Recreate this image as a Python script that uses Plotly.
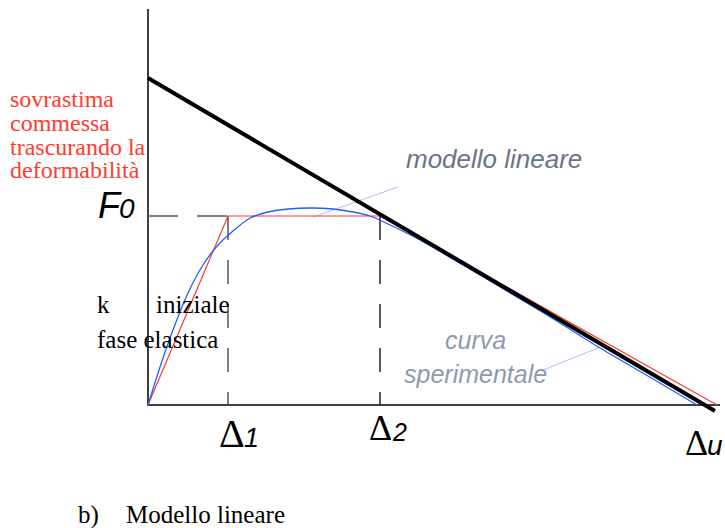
import plotly.graph_objects as go

# ---- data (diagram units: displacement, force) ----
F0 = 189
D1 = 80
D2 = 232
Du = 569
linear_model_x = [0, 567]
linear_model_y = [327, -6]
bilinear_x = [0, D1, D2, Du]
bilinear_y = [0, F0, F0, 0]
exp_x = [0, 12, 25, 40, 55, 70, 85, 102, 120, 140, 163, 185, 205, 222, 240, 272, 332, 399, 452, 500, 549]
exp_y = [0, 38, 75, 112, 140, 160, 174, 187, 193, 196, 197, 196, 193, 189, 181, 165, 130, 90, 57, 29, 0]
axis_y_top = 396
axis_x_end = 572

W, H = 725, 528
X0, Y0 = 148, 405  # pixel position of origin


def px(x):
    return x - X0


def py(y):
    return Y0 - y


fig = go.Figure()

leader = "#a9c5ee"
# leader lines
fig.add_trace(go.Scatter(x=[px(313), px(398)], y=[py(217), py(187)], mode="lines",
                         line=dict(color=leader, width=1), hoverinfo="skip"))
fig.add_trace(go.Scatter(x=[px(543), px(598)], y=[py(370), py(348)], mode="lines",
                         line=dict(color=leader, width=1), hoverinfo="skip"))

# axes
fig.add_trace(go.Scatter(x=[0, 0, axis_x_end], y=[axis_y_top, 0, 0], mode="lines",
                         line=dict(color="black", width=1.5), hoverinfo="skip"))

# dashed guides
dcol = "#555555"
fig.add_trace(go.Scatter(x=[0, D1], y=[F0, F0], mode="lines",
                         line=dict(color=dcol, width=1.5, dash="30px,19px"), hoverinfo="skip"))
fig.add_trace(go.Scatter(x=[D1, D1], y=[F0, 0], mode="lines",
                         line=dict(color=dcol, width=1.5, dash="24px,20px"), hoverinfo="skip"))
fig.add_trace(go.Scatter(x=[D2, D2], y=[F0, 0], mode="lines",
                         line=dict(color="#222222", width=1.5, dash="24px,20px"), hoverinfo="skip"))

# bilinear (red)
fig.add_trace(go.Scatter(x=bilinear_x, y=bilinear_y, mode="lines",
                         line=dict(color="#ff3b30", width=1.2), hoverinfo="skip"))
# experimental curve (blue)
fig.add_trace(go.Scatter(x=exp_x, y=exp_y, mode="lines",
                         line=dict(color="#1f5fff", width=1.3, shape="spline", smoothing=0.6),
                         hoverinfo="skip"))
# linear model (black)
fig.add_trace(go.Scatter(x=linear_model_x, y=linear_model_y, mode="lines",
                         line=dict(color="black", width=4), hoverinfo="skip"))

SERIF = "Liberation Serif"
SANS = "Liberation Sans"


def ann(text, x, baseline, size, family, color="black", italic=False, anchor="left", k=0.34):
    fig.add_annotation(
        x=px(x), y=py(baseline - k * size), xref="x", yref="y",
        text=text, showarrow=False, xanchor=anchor, yanchor="middle",
        borderpad=0, borderwidth=0,
        font=dict(family=family, size=size, color=color,
                  style="italic" if italic else "normal"),
    )


red = "#ff3b30"
ann("sovrastima", 10, 107, 24, SERIF, red)
ann("commessa", 10, 131, 24, SERIF, red)
ann("trascurando la", 10, 155, 24, SERIF, red)
ann("deformabilità", 10, 178, 24, SERIF, red)

ann("k", 97, 313, 25, SERIF)
ann("iniziale", 156, 313, 25, SERIF)
ann("fase elastica", 97, 348, 25, SERIF)

ann("b)", 78, 523, 25, SERIF)
ann("Modello lineare", 126, 523, 25, SERIF)

ann("modello lineare", 406, 168, 26, SANS, "#6b7487", italic=True)
ann("curva", 475, 348, 25, SANS, "#8d9ab0", italic=True, anchor="center")
ann("sperimentale", 475, 382, 25, SANS, "#8d9ab0", italic=True, anchor="center")

ann("F", 98, 218, 36, SANS, italic=True)
ann("0", 119, 218, 28, SANS, italic=True)

ann("Δ", 219, 447, 40, SERIF)
ann("1", 244, 447, 27, SANS, italic=True)
ann("Δ", 369, 440, 36, SERIF)
ann("2", 392, 440, 25, SANS, italic=True)
ann("Δ", 685, 455, 36, SERIF)
ann("u", 707, 455, 28, SANS, italic=True)

fig.update_layout(
    width=W, height=H, autosize=False,
    margin=dict(l=0, r=0, t=0, b=0),
    paper_bgcolor="white", plot_bgcolor="white",
    showlegend=False,
    xaxis=dict(range=[-X0, W - X0], visible=False, fixedrange=True),
    yaxis=dict(range=[Y0 - H, Y0], visible=False, fixedrange=True),
)

fig.write_html(
    "out.html",
    config={"displayModeBar": False, "staticPlot": True},
    post_script="document.body.style.margin='0';document.body.style.overflow='hidden';",
)
